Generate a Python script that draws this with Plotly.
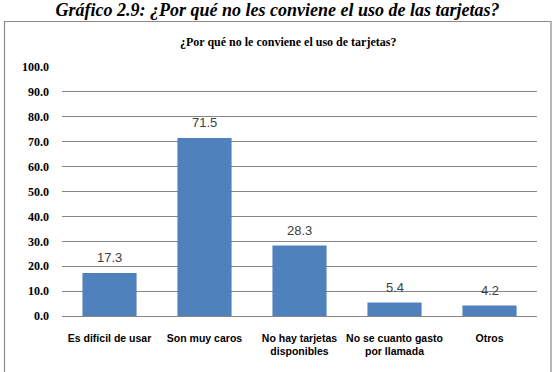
import plotly.graph_objects as go

categories = ["Es difícil de usar", "Son muy caros", "No hay tarjetas<br>disponibles",
              "No se cuanto gasto<br>por llamada", "Otros"]
values = [17.3, 71.5, 28.3, 5.4, 4.2]
y_ticks = [0, 10, 20, 30, 40, 50, 60, 70, 80, 90, 100]

W, H = 555, 372
L, R, T, B = 62, 18, 67, 56
pw, ph = W - L - R, H - T - B

def px_x(p):
    return (p - L) / pw

def px_y(p):
    return (H - B - p) / ph

fig = go.Figure()
fig.add_trace(go.Bar(
    x=categories, y=values,
    marker=dict(color="#4F81BD", line=dict(width=0)),
    width=0.57,
    hoverinfo="skip",
))

for c, v in zip(categories, values):
    fig.add_annotation(x=c, y=v, xref="x", yref="y", text=f"{v:.1f}",
                       showarrow=False, yanchor="bottom", yshift=6,
                       font=dict(family="Liberation Sans", size=13, color="#404040"))

fig.add_annotation(xref="paper", yref="paper", x=px_x(287.5), y=px_y(42),
                   text="<b>¿Por qué no le conviene el uso de tarjetas?</b>",
                   showarrow=False, xanchor="center", yanchor="middle",
                   font=dict(family="Liberation Serif", size=12, color="#000000"))

fig.add_shape(type="rect", xref="paper", yref="paper",
              x0=px_x(4.5), x1=px_x(551), y0=px_y(385), y1=px_y(21.5),
              line=dict(color="#8a8a8a", width=1.2), fillcolor="rgba(0,0,0,0)", layer="below")

fig.update_layout(
    width=W, height=H,
    margin=dict(l=L, r=R, t=T, b=B),
    paper_bgcolor="white", plot_bgcolor="white",
    showlegend=False,
    title=dict(text="<b><i>Gráfico 2.9: ¿Por qué no les conviene el uso de las tarjetas?</i></b>",
               x=0.5, xanchor="center", xref="container",
               y=1 - 10 / H, yanchor="middle", yref="container",
               font=dict(family="Liberation Serif", size=18, color="#000000")),
    xaxis=dict(showgrid=False, showline=True, linecolor="#868686", linewidth=1,
               ticks="", tickfont=dict(family="Liberation Sans", size=10.5, color="#000000", weight="bold"),
               ticklabelstandoff=12, fixedrange=True),
    yaxis=dict(range=[0, 100], tickvals=y_ticks, ticktext=[f"<b>{t:.1f}</b>" for t in y_ticks],
               showgrid=True, gridcolor="#868686", gridwidth=1, zeroline=False,
               showline=False, ticks="", ticklabelstandoff=12,
               tickfont=dict(family="Liberation Serif", size=12, color="#000000"), fixedrange=True),
)

fig.write_html("out.html")
